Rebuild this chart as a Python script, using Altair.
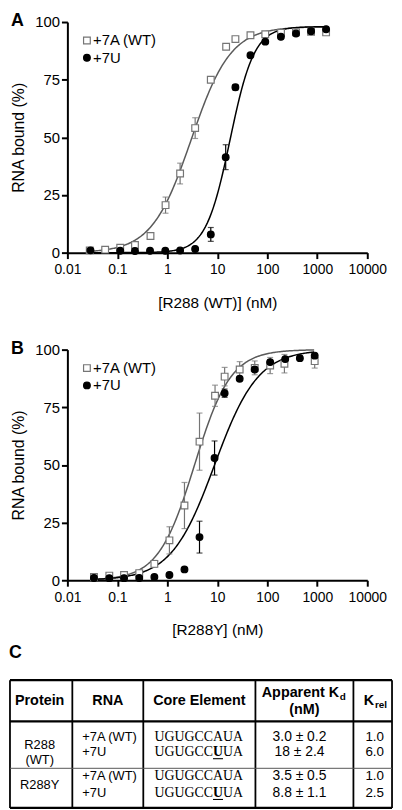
import math
import altair as alt
import pandas as pd

# ---------------- data ----------------
SERIES = ["+7A (WT)", "+7U"]

# Panel A: R288 (WT)
A_WT_CONC = [0.028, 0.057, 0.114, 0.225, 0.46, 0.92, 1.8, 3.6, 7.4, 15, 23, 46, 91, 188, 375, 750, 1500]
A_WT_BOUND = [1.0, 1.3, 2.1, 3.3, 7.2, 20.6, 34.3, 54.0, 75.0, 89.3, 92.6, 94.3, 94.7, 95.3, 95.6, 95.8, 95.5]
A_WT_ERR = [0, 0, 0, 0, 0, 3.5, 4.5, 4.5, 0, 0, 0, 0, 0, 0, 0, 0, 0]
A_U_CONC = [0.029, 0.114, 0.225, 0.45, 0.91, 1.8, 3.6, 7.4, 14.7, 23, 46, 91, 187, 375, 750, 1500]
A_U_BOUND = [1.0, 0.8, 0.7, 0.8, 0.8, 0.9, 1.6, 7.9, 41.4, 71.7, 85.6, 91.5, 93.6, 95.0, 96.0, 96.9]
A_U_ERR = [0, 0, 0, 0, 0, 0, 0, 3.0, 5.4, 1.2, 0, 0, 0, 0, 0, 0]

# Panel B: R288Y
B_WT_CONC = [0.034, 0.069, 0.136, 0.274, 0.55, 1.1, 2.2, 4.4, 9.0, 14, 28, 56, 114, 220, 887]
B_WT_BOUND = [1.4, 2.0, 2.3, 3.1, 7.1, 17.3, 32.4, 60.1, 80.0, 88.3, 91.4, 92.1, 93.1, 93.9, 95.0]
B_WT_ERR = [0, 0, 0, 0, 1.5, 5.9, 10.0, 12.4, 4.6, 4.0, 3.4, 3.0, 3.5, 4.0, 3.0]
B_U_CONC = [0.034, 0.069, 0.136, 0.274, 0.55, 1.1, 2.2, 4.4, 8.8, 14, 28, 56, 114, 228, 448, 887]
B_U_BOUND = [1.0, 0.9, 0.9, 1.0, 1.4, 2.3, 4.7, 18.7, 53.0, 81.1, 87.4, 91.4, 94.6, 95.9, 96.3, 97.4]
B_U_ERR = [0, 0, 0, 0, 0, 0, 0, 6.9, 7.4, 1.8, 0, 0, 0, 0, 0, 0]

# fitted binding curves (Kd from the table; Hill slope and plateau)
KD_A = [3.0, 18.0]
HILL_A = [1.1, 1.8]
BMAX_A = [98, 98]
RANGE_A = [0.025, 1600]
KD_B = [3.5, 8.8]
HILL_B = [1.2, 1.0]
BMAX_B = [100, 100]
RANGE_B = [0.03, 900]

X_TICKS = [0.01, 0.1, 1, 10, 100, 1000, 10000]
Y_TICKS = [0, 25, 50, 75, 100]

# legend anchor (in data units of the panels)
LEGEND_SYMBOL_CONC = 0.0246
LEGEND_TEXT_CONC = 0.0325
LEGEND_BOUND = [92.0, 84.5]

# Panel C table
HEADERS = ["Protein", "RNA", "Core Element", "Apparent K", "K"]
HEADER_SUBS = ["d", "rel"]
HEADER_UNIT = "(nM)"
PROTEINS = ["R288\n(WT)", "R288Y"]
RNAS = ["+7A (WT)", "+7U", "+7A (WT)", "+7U"]
CORE = ["UGUGCCAUA", "UGUGCCUUA", "UGUGCCAUA", "UGUGCCUUA"]
MUTATED = [None, 6, None, 6]
KD_TEXT = ["3.0 \u00b1 0.2", "18 \u00b1 2.4", "3.5 \u00b1 0.5", "8.8 \u00b1 1.1"]
KREL_TEXT = ["1.0", "6.0", "1.0", "2.5"]

# ---------------- style / layout ----------------
FONT = "Liberation Sans"
SERIF = "Liberation Serif"
GRAY_LINE = "#5a5a5a"
GRAY_MK = "#757575"
PW, PH = 303, 233
MK_SIZE = 46

TW, TH = 386, 129
LEFT_EXT = 58          # table part that lies left of the plots' origin
COL_EDGES = [0, 63, 134.7, 248, 347, 386]
HEADER_BOTTOM = 41.6
ROW_SEP = 89
LINE_Y = [57.8, 72.8, 97.3, 114]
PROT_Y = [65.3, 105.6]
HEADER_Y = 21.5
TIMES_W = {"U": 0.722, "G": 0.722, "C": 0.667, "A": 0.722}
CORE_FS = 14


def panel(letter, xtitle, wt, u, kds, hills, bmaxs, xrange):
    rows = []
    for s, (xs, ys, es) in zip(SERIES, (wt, u)):
        for x, y, e in zip(xs, ys, es):
            rows.append(dict(series=s, conc=x, bound=y, lo=y - e, hi=y + e, err=e))
    df = pd.DataFrame(rows)
    xsc = alt.Scale(type="log", domain=[0.01, 10000], nice=False)
    ysc = alt.Scale(domain=[0, 100], nice=False, zero=False)
    xax = alt.Axis(values=X_TICKS, format="~g", title=xtitle, labelFlush=False,
                   labelOverlap=False, titlePadding=19, labelPadding=4)
    yax = alt.Axis(values=Y_TICKS, title="RNA bound (%)", labelPadding=2, titlePadding=8)
    X = alt.X("conc:Q", scale=xsc, axis=xax)
    Y = alt.Y("bound:Q", scale=ysc, axis=yax)

    layers = []
    for kd, n, bm, col in zip(kds, hills, bmaxs, [GRAY_LINE, "black"]):
        seq = alt.sequence(math.log10(xrange[0]), math.log10(xrange[1]) + 0.001, 0.02, as_="t")
        layers.append(
            alt.Chart(seq)
            .transform_calculate(conc="pow(10, datum.t)")
            .transform_calculate(
                bound=f"{bm} * pow(datum.conc, {n}) / (pow({kd}, {n}) + pow(datum.conc, {n}))")
            .mark_line(color=col, strokeWidth=1.5)
            .encode(x=X, y=Y)
        )

    eb = df[df.err > 0]
    ecol = alt.Color("series:N", scale=alt.Scale(domain=SERIES, range=[GRAY_MK, "black"]), legend=None)
    layers.append(
        alt.Chart(eb).mark_rule(strokeWidth=1.2).encode(
            x=X, y=alt.Y("lo:Q", scale=ysc, axis=yax), y2="hi:Q", color=ecol)
    )
    layers.append(
        alt.Chart(eb).transform_fold(["lo", "hi"], as_=["k", "v"])
        .mark_tick(orient="horizontal", size=6, thickness=1.2)
        .encode(x=X, y=alt.Y("v:Q", scale=ysc, axis=yax), color=ecol)
    )
    shape = alt.Shape("series:N", scale=alt.Scale(domain=SERIES, range=["square", "circle"]), legend=None)
    fill = alt.Fill("series:N", scale=alt.Scale(domain=SERIES, range=["white", "black"]), legend=None)
    stroke = alt.Stroke("series:N", scale=alt.Scale(domain=SERIES, range=[GRAY_MK, "black"]), legend=None)
    layers.append(
        alt.Chart(df).mark_point(filled=True, size=MK_SIZE, strokeWidth=1.2, opacity=1).encode(
            x=X, y=Y, shape=shape, fill=fill, stroke=stroke)
    )
    # legend
    leg = pd.DataFrame({"series": SERIES, "conc": [LEGEND_SYMBOL_CONC] * 2,
                        "tx": [LEGEND_TEXT_CONC] * 2, "bound": LEGEND_BOUND})
    layers.append(
        alt.Chart(leg).mark_point(filled=True, size=MK_SIZE, strokeWidth=1.2, opacity=1).encode(
            x=X, y=Y, shape=shape, fill=fill, stroke=stroke)
    )
    layers.append(
        alt.Chart(leg).mark_text(align="left", baseline="middle", font=FONT, fontSize=15, color="black")
        .encode(x=alt.X("tx:Q", scale=xsc, axis=xax), y=Y, text="series:N")
    )
    return alt.layer(*layers).properties(
        width=PW, height=PH,
        title=alt.TitleParams(letter, anchor="start", frame="bounds", fontSize=18,
                              fontWeight="bold", font=FONT, color="black", offset=-15),
    )


chart_a = panel("A", "[R288 (WT)] (nM)", (A_WT_CONC, A_WT_BOUND, A_WT_ERR),
                (A_U_CONC, A_U_BOUND, A_U_ERR), KD_A, HILL_A, BMAX_A, RANGE_A)
chart_b = panel("B", "[R288Y] (nM)", (B_WT_CONC, B_WT_BOUND, B_WT_ERR),
                (B_U_CONC, B_U_BOUND, B_U_ERR), KD_B, HILL_B, BMAX_B, RANGE_B)

# ---------------- table (panel C) ----------------
# the view starts at LEFT_EXT so that the table's left border lines up with the panels' left edge
TX = alt.Scale(domain=[LEFT_EXT, TW], nice=False, zero=False)
TY = alt.Scale(domain=[0, TH], nice=False, zero=False, reverse=True)


def tx(f):
    return alt.X(f"{f}:Q", scale=TX, axis=None)


def ty(f):
    return alt.Y(f"{f}:Q", scale=TY, axis=None)


centers = [(COL_EDGES[i] + COL_EDGES[i + 1]) / 2 for i in range(5)]

vlines = pd.DataFrame({"x": COL_EDGES, "y": [0] * 6, "y2": [TH] * 6})
hthick = pd.DataFrame({"x": [0, 0, 0], "x2": [TW] * 3, "y": [0, HEADER_BOTTOM, TH]})
hthin = pd.DataFrame({"x": [0], "x2": [TW], "y": [ROW_SEP]})

t_layers = [
    alt.Chart(vlines).mark_rule(strokeWidth=1.8, color="black").encode(x=tx("x"), y=ty("y"), y2="y2:Q"),
    alt.Chart(hthick).mark_rule(strokeWidth=2.2, color="black").encode(x=tx("x"), x2="x2:Q", y=ty("y")),
    alt.Chart(hthin).mark_rule(strokeWidth=1, color="#555555").encode(x=tx("x"), x2="x2:Q", y=ty("y")),
]

hdr_c = pd.DataFrame({
    "t": [HEADERS[0], HEADERS[1], HEADERS[2], HEADER_UNIT],
    "x": [centers[0] - 1.5, centers[1], centers[2], centers[3]],
    "y": [HEADER_Y, HEADER_Y, HEADER_Y, 30.3],
})
t_layers.append(alt.Chart(hdr_c).mark_text(font=FONT, fontSize=14.5, fontWeight="bold", color="black",
                                           baseline="middle").encode(x=tx("x"), y=ty("y"), text="t:N"))
hdr_r = pd.DataFrame({"t": [HEADERS[3], HEADERS[4]], "x": [centers[3] + 35, centers[4] + 1.5],
                      "y": [13.2, HEADER_Y]})
t_layers.append(alt.Chart(hdr_r).mark_text(font=FONT, fontSize=14.5, fontWeight="bold", color="black",
                                           baseline="middle", align="right").encode(x=tx("x"), y=ty("y"), text="t:N"))
hdr_s = pd.DataFrame({"t": HEADER_SUBS, "x": [centers[3] + 35.8, centers[4] + 2.2],
                      "y": [16.5, HEADER_Y + 4]})
t_layers.append(alt.Chart(hdr_s).mark_text(font=FONT, fontSize=10, fontWeight="bold", color="black",
                                           baseline="middle", align="left").encode(x=tx("x"), y=ty("y"), text="t:N"))

prot = pd.DataFrame({"t": PROTEINS, "x": [centers[0] - 1.5] * 2, "y": PROT_Y})
t_layers.append(alt.Chart(prot).mark_text(font=FONT, fontSize=13, color="black", baseline="middle",
                                          lineBreak="\n", lineHeight=15.5).encode(x=tx("x"), y=ty("y"), text="t:N"))
rna = pd.DataFrame({"t": RNAS, "x": [COL_EDGES[1] + 10] * 4, "y": LINE_Y})
t_layers.append(alt.Chart(rna).mark_text(font=FONT, fontSize=13, color="black", baseline="middle",
                                         align="left").encode(x=tx("x"), y=ty("y"), text="t:N"))

# core element: regular pieces and the bold, underlined mutated base
core_x = COL_EDGES[2] + 11.3
reg_rows, bold_rows = [], []
for s, pos, y in zip(CORE, MUTATED, LINE_Y):
    if pos is None:
        reg_rows.append({"t": s, "x": core_x, "y": y})
        continue
    x0 = core_x + sum(TIMES_W[c] for c in s[:pos]) * CORE_FS
    w = TIMES_W[s[pos]] * CORE_FS
    reg_rows.append({"t": s[:pos], "x": core_x, "y": y})
    reg_rows.append({"t": s[pos + 1:], "x": x0 + w, "y": y})
    bold_rows.append({"t": s[pos], "x": x0, "x2": x0 + w, "y": y, "yu": y + 6.5})
core_reg = pd.DataFrame(reg_rows)
core_bold = pd.DataFrame(bold_rows)
t_layers.append(alt.Chart(core_reg).mark_text(font=SERIF, fontSize=CORE_FS, color="black", baseline="middle",
                                              align="left").encode(x=tx("x"), y=ty("y"), text="t:N"))
t_layers.append(alt.Chart(core_bold).mark_text(font=SERIF, fontSize=CORE_FS, fontWeight="bold", color="black",
                                               baseline="middle", align="left").encode(x=tx("x"), y=ty("y"), text="t:N"))
t_layers.append(alt.Chart(core_bold).mark_rule(strokeWidth=1.1, color="black").encode(
    x=tx("x"), x2="x2:Q", y=ty("yu")))

kd = pd.DataFrame({"t": KD_TEXT, "x": [centers[3] - 5] * 4, "y": LINE_Y})
t_layers.append(alt.Chart(kd).mark_text(font=FONT, fontSize=14, color="black", baseline="middle").encode(
    x=tx("x"), y=ty("y"), text="t:N"))
kr = pd.DataFrame({"t": KREL_TEXT, "x": [centers[4] + 2] * 4, "y": LINE_Y})
t_layers.append(alt.Chart(kr).mark_text(font=FONT, fontSize=13.5, color="black", baseline="middle").encode(
    x=tx("x"), y=ty("y"), text="t:N"))

chart_c = alt.layer(*t_layers).properties(
    width=TW - LEFT_EXT, height=TH,
    title=alt.TitleParams("C", anchor="start", frame="bounds", fontSize=18, fontWeight="bold",
                          font=FONT, color="black", offset=17),
)

top = alt.vconcat(chart_a, chart_b, spacing=29)
chart = (
    alt.vconcat(top, chart_c, spacing=5)
    .properties(padding=0, background="white")
    .configure_view(stroke=None)
    .configure_axis(domainColor="black", domainWidth=2, tickColor="black", tickWidth=2, tickSize=6,
                    labelColor="black", titleColor="black", labelFont=FONT, titleFont=FONT,
                    titleFontWeight="normal", grid=False, labelFontSize=14, titleFontSize=15.5)
    .configure_axisY(labelFontSize=15, titleFontSize=16)
)

chart.save("out.html", embed_options={"renderer": "svg", "actions": False})
